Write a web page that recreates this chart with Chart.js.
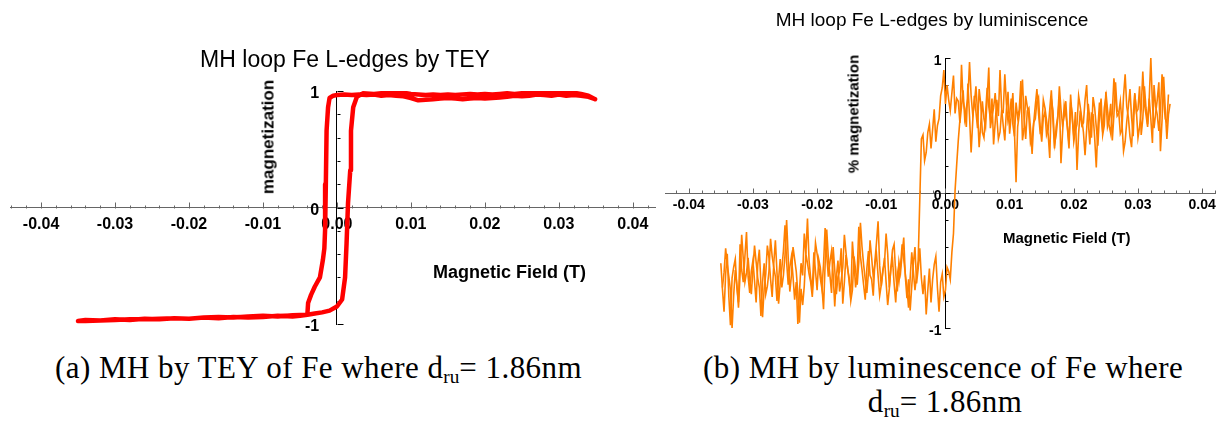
<!DOCTYPE html>
<html>
<head>
<meta charset="utf-8">
<title>MH loops Fe L-edges</title>
<script src="https://cdn.jsdelivr.net/npm/chart.js@4.4.0/dist/chart.umd.min.js"></script>
<style>
  body { margin: 0; background: #fff; width: 1219px; height: 422px; position: relative; overflow: hidden;
         font-family: "Liberation Sans", Arial, sans-serif; color: #000; }
  canvas { position: absolute; top: 0; }
  .lbl { position: absolute; white-space: nowrap; line-height: 1; z-index: 2; }
  .rot { transform: translate(-50%, -50%) rotate(-90deg); font-weight: bold; }
  .cap { font-family: "Liberation Serif", "Times New Roman", serif; font-size: 31px; letter-spacing: 0.45px; }
  .cap sub { font-size: 62%; vertical-align: -0.25em; letter-spacing: 0; }
</style>
</head>
<body>

<canvas id="teyChart" width="660" height="345" style="left:0"></canvas>
<canvas id="lumChart" width="559" height="345" style="left:660px"></canvas>

<div class="lbl" style="left:345px; top:48px; font-size:23px; transform:translateX(-50%)">MH loop Fe L-edges by TEY</div>
<div class="lbl rot" style="left:268px; top:137px; font-size:17px">magnetization</div>
<div class="lbl" style="left:433px; top:263px; font-size:18px; font-weight:bold">Magnetic Field (T)</div>

<div class="lbl" style="left:932px; top:10px; font-size:19px; transform:translateX(-50%)">MH loop Fe L-edges by luminiscence</div>
<div class="lbl rot" style="left:853px; top:114px; font-size:15px">% magnetization</div>
<div class="lbl" style="left:1003px; top:230px; font-size:15px; font-weight:bold">Magnetic Field (T)</div>

<div class="lbl cap" style="left:55px; top:352px">(a) MH by TEY of Fe where d<sub>ru</sub>= 1.86nm</div>
<div class="lbl cap" style="left:703px; top:352px">(b) MH by luminescence of Fe where</div>
<div class="lbl cap" style="left:945px; top:386px; transform:translateX(-50%)">d<sub>ru</sub>= 1.86nm</div>

<script>
// axis ticks
var xMajorTicks = [-0.04, -0.03, -0.02, -0.01, 0, 0.01, 0.02, 0.03, 0.04];
var xTickLabels = ['-0.04', '-0.03', '-0.02', '-0.01', '0.00', '0.01', '0.02', '0.03', '0.04'];
var yMajorTicks = [-1, 0, 1];
var yTickLabels = ['-1', '0', '1'];

// (a) TEY loop, field in T, one closed sweep
var teyField = [
  0.0349, 0.034, 0.033, 0.032, 0.031, 0.030, 0.029, 0.028, 0.027, 0.026,
  0.025, 0.024, 0.023, 0.022, 0.021, 0.020, 0.019, 0.018, 0.017, 0.016,
  0.015, 0.014, 0.013, 0.012, 0.011, 0.010, 0.009, 0.008, 0.007, 0.006,
  0.005, 0.004, 0.003, 0.002, 0.001, 0.0, -0.0005, -0.001,
  -0.0012, -0.0014, -0.0015, -0.0016, -0.0017, -0.0019, -0.0023, -0.003, -0.0035, -0.0039, -0.004,
  -0.005, -0.006, -0.008, -0.010, -0.012, -0.014, -0.016, -0.018, -0.020, -0.022,
  -0.024, -0.026, -0.028, -0.030, -0.032, -0.034, -0.035,
  -0.034, -0.032, -0.030, -0.028, -0.026, -0.024, -0.022, -0.020, -0.018, -0.016,
  -0.014, -0.012, -0.010, -0.008, -0.006, -0.004, -0.003, -0.002, -0.001, 0.0,
  0.0007, 0.0011, 0.0013, 0.0015, 0.0018, 0.0019, 0.0022, 0.0027, 0.0035,
  0.005, 0.006, 0.007, 0.008, 0.009, 0.010, 0.011, 0.012, 0.013, 0.014,
  0.015, 0.016, 0.017, 0.018, 0.019, 0.020, 0.021, 0.022, 0.023, 0.024,
  0.025, 0.026, 0.027, 0.028, 0.029, 0.030, 0.031, 0.032, 0.033, 0.034, 0.0349
];
var teyMag = [
  0.93, 0.95, 0.96, 0.965, 0.96, 0.97, 0.96, 0.965, 0.97, 0.96,
  0.955, 0.96, 0.95, 0.945, 0.94, 0.935, 0.94, 0.935, 0.93, 0.935,
  0.94, 0.935, 0.93, 0.925, 0.92, 0.94, 0.955, 0.96, 0.965, 0.96,
  0.97, 0.965, 0.97, 0.965, 0.97, 0.965, 0.96, 0.94,
  0.86, 0.66, 0.2, -0.19, -0.35, -0.45, -0.6, -0.68, -0.75, -0.82, -0.92,
  -0.93, -0.935, -0.93, -0.94, -0.945, -0.94, -0.95, -0.945, -0.955, -0.95,
  -0.96, -0.955, -0.965, -0.96, -0.97, -0.965, -0.975,
  -0.975, -0.97, -0.965, -0.96, -0.96, -0.955, -0.95, -0.955, -0.945, -0.94,
  -0.945, -0.935, -0.93, -0.935, -0.925, -0.92, -0.91, -0.9, -0.885, -0.85,
  -0.79, -0.6, -0.31, 0.04, 0.32, 0.66, 0.86, 0.95, 0.98,
  0.975, 0.98, 0.985, 0.99, 0.985, 0.975, 0.97, 0.965, 0.97, 0.965,
  0.97, 0.965, 0.97, 0.975, 0.97, 0.975, 0.97, 0.975, 0.98, 0.975,
  0.98, 0.985, 0.98, 0.985, 0.98, 0.985, 0.98, 0.985, 0.975, 0.96, 0.93
];

// (b) luminescence, field in mT, rising sweep
var lumUpField = [
  -35, -34.75, -34.5, -34.25, -34, -33.75, -33.5, -33.25,
  -33, -32.75, -32.5, -32.25, -32, -31.75, -31.5, -31.25,
  -31, -30.75, -30.5, -30.25, -30, -29.75, -29.5, -29.25,
  -29, -28.75, -28.5, -28.25, -28, -27.75, -27.5, -27.25,
  -27, -26.75, -26.5, -26.25, -26, -25.75, -25.5, -25.25,
  -25, -24.75, -24.5, -24.25, -24, -23.75, -23.5, -23.25,
  -23, -22.75, -22.5, -22.25, -22, -21.75, -21.5, -21.25,
  -21, -20.75, -20.5, -20.25, -20, -19.75, -19.5, -19.25,
  -19, -18.75, -18.5, -18.25, -18, -17.75, -17.5, -17.25,
  -17, -16.75, -16.5, -16.25, -16, -15.75, -15.5, -15.25,
  -15, -14.75, -14.5, -14.25, -14, -13.75, -13.5, -13.25,
  -13, -12.75, -12.5, -12.25, -12, -11.75, -11.5, -11.25,
  -11, -10.75, -10.5, -10.25, -10, -9.75, -9.5, -9.25,
  -9, -8.75, -8.5, -8.25, -8, -7.75, -7.5, -7.25,
  -7, -6.75, -6.5, -6.25, -6, -5.75, -5.5, -5.25,
  -5, -4.75, -4.5, -4.25, -4, -3.75, -3.5, -3.25,
  -3, -2.75, -2.5, -2.25, -2, -1.75, -1.5, -1.25,
  -1, -0.75, -0.5, -0.25, 0, 0.25, 0.5, 0.75,
  1, 1.25, 1.5, 1.75, 2, 2.25, 2.5, 2.75,
  3, 3.25, 3.5, 3.75, 4, 4.25, 4.5, 4.75,
  5, 5.25, 5.5, 5.75, 6, 6.25, 6.5, 6.75,
  7, 7.25, 7.5, 7.75, 8, 8.25, 8.5, 8.75,
  9, 9.25, 9.5, 9.75, 10, 10.25, 10.5, 10.75,
  11, 11.25, 11.5, 11.75, 12, 12.25, 12.5, 12.75,
  13, 13.25, 13.5, 13.75, 14, 14.25, 14.5, 14.75,
  15, 15.25, 15.5, 15.75, 16, 16.25, 16.5, 16.75,
  17, 17.25, 17.5, 17.75, 18, 18.25, 18.5, 18.75,
  19, 19.25, 19.5, 19.75, 20, 20.25, 20.5, 20.75,
  21, 21.25, 21.5, 21.75, 22, 22.25, 22.5, 22.75,
  23, 23.25, 23.5, 23.75, 24, 24.25, 24.5, 24.75,
  25, 25.25, 25.5, 25.75, 26, 26.25, 26.5, 26.75,
  27, 27.25, 27.5, 27.75, 28, 28.25, 28.5, 28.75,
  29, 29.25, 29.5, 29.75, 30, 30.25, 30.5, 30.75,
  31, 31.25, 31.5, 31.75, 32, 32.25, 32.5, 32.75,
  33, 33.25, 33.5, 33.75, 34, 34.25, 34.5, 34.75,
  35
];
var lumUpMag = [
  -0.52, -0.71, -0.88, -0.60, -0.45, -0.77, -0.98, -0.63,
  -0.55, -0.49, -0.70, -0.81, -0.38, -0.57, -0.66, -0.47,
  -0.29, -0.62, -0.74, -0.58, -0.50, -0.65, -0.81, -0.53,
  -0.42, -0.68, -0.92, -0.71, -0.60, -0.39, -0.48, -0.64,
  -0.77, -0.52, -0.35, -0.59, -0.82, -0.67, -0.56, -0.43,
  -0.24, -0.51, -0.68, -0.55, -0.47, -0.62, -0.79, -0.66,
  -0.97, -0.74, -0.52, -0.61, -0.30, -0.45, -0.19, -0.50,
  -0.63, -0.72, -0.44, -0.58, -0.72, -0.49, -0.55, -0.69,
  -0.86, -0.53, -0.27, -0.48, -0.61, -0.74, -0.40, -0.57,
  -0.75, -0.62, -0.58, -0.41, -0.82, -0.66, -0.46, -0.55,
  -0.66, -0.78, -0.36, -0.52, -0.70, -0.59, -0.25, -0.47,
  -0.57, -0.68, -0.79, -0.56, -0.43, -0.61, -0.64, -0.76,
  -0.51, -0.37, -0.21, -0.54, -0.69, -0.58, -0.48, -0.66,
  -0.83, -0.71, -0.55, -0.42, -0.38, -0.60, -0.73, -0.51,
  -0.59, -0.45, -0.33, -0.62, -0.78, -0.64, -0.87, -0.69,
  -0.52, -0.40, -0.67, -0.56, -0.41, -0.63, -0.75, -0.61,
  -0.90, -0.72, -0.56, -0.81, -0.64, -0.53, -0.47, -0.70,
  -0.88, -0.66, -0.60, -0.77, -0.72, -0.55, -0.58, -0.64,
  -0.44, -0.30, 0.02, 0.21, 0.39, 0.54, 0.95, 0.68,
  0.62, 0.49, 0.81, 0.57, 0.30, 0.53, 0.72, 0.60,
  0.48, 0.77, 0.66, 0.45, 0.41, 0.59, 0.78, 0.64,
  0.55, 0.70, 0.36, 0.52, 0.69, 0.57, 0.91, 0.63,
  0.50, 0.39, 0.62, 0.75, 0.44, 0.58, 0.74, 0.46,
  0.08, 0.49, 0.58, 0.67, 0.84, 0.55, 0.40, 0.61,
  0.63, 0.48, 0.29, 0.52, 0.55, 0.68, 0.71, 0.50,
  0.38, 0.56, 0.60, 0.43, 0.47, 0.62, 0.76, 0.54,
  0.33, 0.49, 0.57, 0.70, 0.22, 0.45, 0.65, 0.58,
  0.49, 0.37, 0.73, 0.55, 0.42, 0.60, 0.17, 0.44,
  0.61, 0.50, 0.52, 0.69, 0.80, 0.53, 0.36, 0.59,
  0.58, 0.41, 0.19, 0.48, 0.67, 0.56, 0.45, 0.63,
  0.71, 0.49, 0.54, 0.66, 0.39, 0.58, 0.82, 0.61,
  0.60, 0.44, 0.47, 0.72, 0.88, 0.64, 0.56, 0.42,
  0.34, 0.57, 0.74, 0.60, 0.62, 0.79, 0.43, 0.55,
  0.79, 0.63, 0.51, 0.70, 1.00, 0.66, 0.48, 0.59,
  0.69, 0.82, 0.31, 0.54, 0.86, 0.62, 0.40, 0.58,
  0.66
];

// (b) luminescence, falling sweep
var lumDownField = [
  34.75, 34.5, 34.25, 34, 33.75, 33.5, 33.25, 33,
  32.75, 32.5, 32.25, 32, 31.75, 31.5, 31.25, 31,
  30.75, 30.5, 30.25, 30, 29.75, 29.5, 29.25, 29,
  28.75, 28.5, 28.25, 28, 27.75, 27.5, 27.25, 27,
  26.75, 26.5, 26.25, 26, 25.75, 25.5, 25.25, 25,
  24.75, 24.5, 24.25, 24, 23.75, 23.5, 23.25, 23,
  22.75, 22.5, 22.25, 22, 21.75, 21.5, 21.25, 21,
  20.75, 20.5, 20.25, 20, 19.75, 19.5, 19.25, 19,
  18.75, 18.5, 18.25, 18, 17.75, 17.5, 17.25, 17,
  16.75, 16.5, 16.25, 16, 15.75, 15.5, 15.25, 15,
  14.75, 14.5, 14.25, 14, 13.75, 13.5, 13.25, 13,
  12.75, 12.5, 12.25, 12, 11.75, 11.5, 11.25, 11,
  10.75, 10.5, 10.25, 10, 9.75, 9.5, 9.25, 9,
  8.75, 8.5, 8.25, 8, 7.75, 7.5, 7.25, 7,
  6.75, 6.5, 6.25, 6, 5.75, 5.5, 5.25, 5,
  4.75, 4.5, 4.25, 4, 3.75, 3.5, 3.25, 3,
  2.75, 2.5, 2.25, 2, 1.75, 1.5, 1.25, 1,
  0.75, 0.5, 0.25, 0, -0.25, -0.5, -0.75, -1,
  -1.25, -1.5, -1.75, -2, -2.25, -2.5, -2.75, -3,
  -3.25, -3.5, -3.75, -4, -4.25, -4.5, -4.75, -5,
  -5.25, -5.5, -5.75, -6, -6.25, -6.5, -6.75, -7,
  -7.25, -7.5, -7.75, -8, -8.25, -8.5, -8.75, -9,
  -9.25, -9.5, -9.75, -10, -10.25, -10.5, -10.75, -11,
  -11.25, -11.5, -11.75, -12, -12.25, -12.5, -12.75, -13,
  -13.25, -13.5, -13.75, -14, -14.25, -14.5, -14.75, -15,
  -15.25, -15.5, -15.75, -16, -16.25, -16.5, -16.75, -17,
  -17.25, -17.5, -17.75, -18, -18.25, -18.5, -18.75, -19,
  -19.25, -19.5, -19.75, -20, -20.25, -20.5, -20.75, -21,
  -21.25, -21.5, -21.75, -22, -22.25, -22.5, -22.75, -23,
  -23.25, -23.5, -23.75, -24, -24.25, -24.5, -24.75, -25,
  -25.25, -25.5, -25.75, -26, -26.25, -26.5, -26.75, -27,
  -27.25, -27.5, -27.75, -28, -28.25, -28.5, -28.75, -29,
  -29.25, -29.5, -29.75, -30, -30.25, -30.5, -30.75, -31,
  -31.25, -31.5, -31.75, -32, -32.25, -32.5, -32.75, -33,
  -33.25, -33.5, -33.75, -34, -34.25, -34.5, -34.75
];
var lumDownMag = [
  0.73, 0.52, 0.55, 0.69, 0.88, 0.61, 0.46, 0.58,
  0.64, 0.80, 0.37, 0.55, 0.70, 0.49, 0.58, 0.66,
  0.90, 0.62, 0.49, 0.41, 0.61, 0.73, 0.42, 0.56,
  0.77, 0.64, 0.53, 0.38, 0.31, 0.52, 0.68, 0.59,
  0.57, 0.71, 0.85, 0.60, 0.44, 0.50, 0.62, 0.75,
  0.50, 0.43, 0.70, 0.58, 0.35, 0.49, 0.63, 0.71,
  0.41, 0.54, 0.66, 0.47, 0.28, 0.45, 0.55, 0.64,
  0.72, 0.51, 0.46, 0.38, 0.59, 0.67, 0.33, 0.48,
  0.68, 0.57, 0.50, 0.62, 0.79, 0.55, 0.43, 0.36,
  0.61, 0.70, 0.26, 0.44, 0.54, 0.63, 0.69, 0.47,
  0.45, 0.59, 0.77, 0.65, 0.52, 0.41, 0.37, 0.56,
  0.64, 0.72, 0.48, 0.39, 0.83, 0.62, 0.56, 0.67,
  0.42, 0.51, 0.70, 0.58, 0.53, 0.66, 0.88, 0.60,
  0.61, 0.45, 0.40, 0.57, 0.74, 0.63, 0.57, 0.48,
  0.93, 0.70, 0.49, 0.55, 0.68, 0.51, 0.34, 0.60,
  0.79, 0.66, 0.58, 0.72, 0.97, 0.70, 0.63, 0.55,
  0.76, 0.64, 0.52, 0.68, 0.70, 0.59, 0.87, 0.74,
  0.61, 0.69, 0.80, 0.66, 0.91, 0.78, 0.72, 0.55,
  0.50, 0.38, 0.62, 0.47, 0.33, 0.51, 0.45, 0.30,
  0.24, 0.43, 0.40, -0.05, -0.50, -0.61, -0.72, -0.58,
  -0.44, -0.63, -0.85, -0.70, -0.60, -0.49, -0.38, -0.54,
  -0.66, -0.59, -0.81, -0.67, -0.49, -0.56, -0.70, -0.45,
  -0.30, -0.52, -0.57, -0.68, -0.76, -0.61, -0.45, -0.53,
  -0.62, -0.48, -0.35, -0.59, -0.74, -0.64, -0.53, -0.40,
  -0.22, -0.51, -0.68, -0.57, -0.47, -0.72, -0.80, -0.63,
  -0.56, -0.44, -0.31, -0.55, -0.65, -0.73, -0.50, -0.62,
  -0.84, -0.60, -0.43, -0.51, -0.62, -0.46, -0.26, -0.53,
  -0.71, -0.63, -0.54, -0.45, -0.37, -0.58, -0.77, -0.66,
  -0.60, -0.52, -0.45, -0.69, -0.83, -0.71, -0.96, -0.74,
  -0.58, -0.49, -0.40, -0.61, -0.73, -0.48, -0.20, -0.46,
  -0.61, -0.70, -0.49, -0.64, -0.80, -0.62, -0.55, -0.47,
  -0.34, -0.58, -0.69, -0.75, -0.52, -0.66, -0.91, -0.70,
  -0.63, -0.51, -0.39, -0.57, -0.75, -0.64, -0.48, -0.59,
  -0.66, -0.49, -0.31, -0.60, -0.85, -0.68, -0.57, -0.76,
  -1.00, -0.72, -0.62, -0.53, -0.41, -0.59, -0.70
];

function points(xs, ys, scale) {
  return xs.map(function (x, i) { return { x: x * scale, y: ys[i] }; });
}

function labelFor(value, majors, labels) {
  var idx = majors.findIndex(function (v) { return Math.abs(v - value) < 1e-9; });
  return idx >= 0 ? labels[idx] : '';
}

// Mathematica style tick marks: x ticks point up, y ticks point right
var tickMarks = {
  id: 'tickMarks',
  beforeDatasetsDraw: function (chart, args, opts) {
    var ctx = chart.ctx, xs = chart.scales.x, ys = chart.scales.y;
    var y0 = Math.round(ys.getPixelForValue(0)) + 0.5;
    var x0 = Math.round(xs.getPixelForValue(0)) + 0.5;
    ctx.save();
    ctx.lineWidth = 1;
    ctx.strokeStyle = '#666';
    xs.ticks.forEach(function (t) {
      var px = Math.round(xs.getPixelForValue(t.value)) + 0.5;
      var len = labelFor(t.value, xMajorTicks, xTickLabels) ? opts.major : opts.minor;
      ctx.beginPath(); ctx.moveTo(px, y0); ctx.lineTo(px, y0 - len); ctx.stroke();
    });
    ctx.strokeStyle = '#000';
    ys.ticks.forEach(function (t) {
      var py = Math.round(ys.getPixelForValue(t.value)) + 0.5;
      var len = labelFor(t.value, yMajorTicks, yTickLabels) ? opts.major : opts.minor;
      ctx.beginPath(); ctx.moveTo(x0, py); ctx.lineTo(x0 + len, py); ctx.stroke();
    });
    ctx.restore();
  }
};

function makeChart(id, datasets, cfg) {
  var xTicks = [];
  for (var k = -22; k <= 22; k++) {
    var v = k * 0.002;
    if (v >= cfg.xMin - 1e-9 && v <= cfg.xMax + 1e-9) xTicks.push(v);
  }
  var yTicks = [-1, -0.8, -0.6, -0.4, -0.2, 0, 0.2, 0.4, 0.6, 0.8, 1];
  var tickFont = { family: '"Liberation Sans", Arial, sans-serif', weight: 'bold', size: cfg.fontSize };

  return new Chart(document.getElementById(id), {
    type: 'scatter',
    data: { datasets: datasets },
    options: {
      responsive: false,
      animation: false,
      devicePixelRatio: 1,
      layout: { padding: cfg.padding },
      plugins: { legend: { display: false }, tooltip: { enabled: false }, tickMarks: cfg.ticks },
      elements: { point: { radius: 0 }, line: { tension: 0 } },
      scales: {
        x: {
          type: 'linear',
          position: { y: 0 },
          min: cfg.xMin, max: cfg.xMax,
          afterBuildTicks: function (s) { s.ticks = xTicks.map(function (v) { return { value: v }; }); },
          // centred axes should not eat into the plot area
          afterFit: function (s) { s.height = 0; },
          grid: { display: false, drawTicks: false },
          border: { display: true, color: '#666', width: 1 },
          ticks: {
            autoSkip: false, maxRotation: 0, minRotation: 0,
            padding: cfg.xPad, color: '#000', font: tickFont,
            callback: function (value) { return labelFor(value, xMajorTicks, xTickLabels); }
          }
        },
        y: {
          type: 'linear',
          position: { x: 0 },
          min: -1, max: 1,
          afterBuildTicks: function (s) { s.ticks = yTicks.map(function (v) { return { value: v }; }); },
          afterFit: function (s) { s.width = 0; },
          grid: { display: false, drawTicks: false },
          border: { display: true, color: '#000', width: 1 },
          ticks: {
            autoSkip: false, padding: 0, labelOffset: 3, color: '#000', font: tickFont,
            // labels are right-aligned on the axis line, trailing spaces give the gap
            callback: function (value) {
              var s = labelFor(value, yMajorTicks, yTickLabels);
              return s ? s + cfg.yGap : '';
            }
          }
        }
      }
    },
    plugins: [tickMarks]
  });
}

makeChart('teyChart', [{
  data: points(teyField, teyMag, 1),
  showLine: true, borderColor: '#ff0000', borderWidth: 4.5, borderJoinStyle: 'round', borderCapStyle: 'round'
}], {
  xMin: -0.0442, xMax: 0.043, fontSize: 16, xPad: 7, yGap: '    ',
  padding: { left: 10, right: 5, top: 91, bottom: 21 },
  ticks: { major: 6, minor: 3 }
});

makeChart('lumChart', [{
  data: points(lumUpField, lumUpMag, 0.001),
  showLine: true, borderColor: '#ff8000', borderWidth: 1.6
}, {
  data: points(lumDownField, lumDownMag, 0.001),
  showLine: true, borderColor: '#ff8000', borderWidth: 1.6
}], {
  xMin: -0.0437, xMax: 0.0420, fontSize: 14, xPad: 4, yGap: ' ',
  padding: { left: 5, right: 3, top: 58, bottom: 17 },
  ticks: { major: 5, minor: 3 }
});
</script>
</body>
</html>
